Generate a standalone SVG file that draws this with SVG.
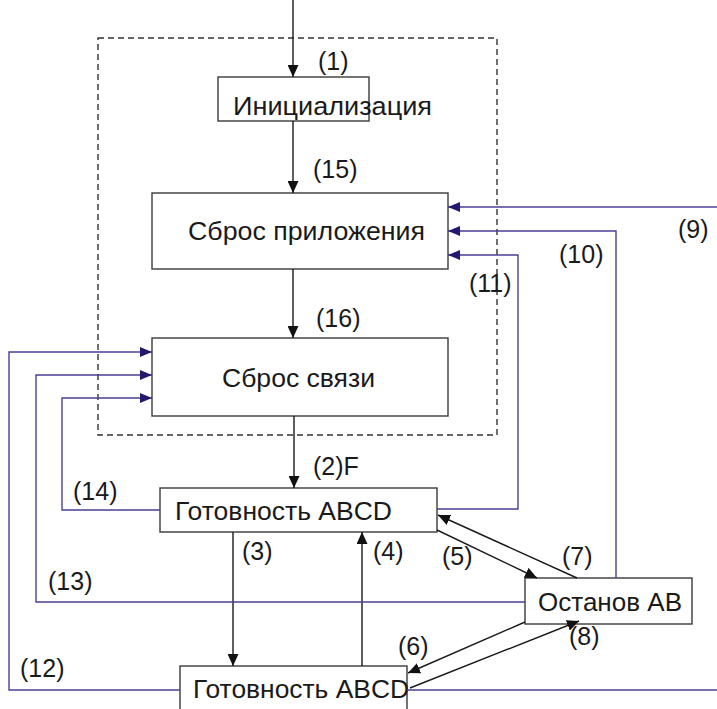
<svg xmlns="http://www.w3.org/2000/svg" width="717" height="709" viewBox="0 0 717 709">
<style>
  .box{fill:#fff;stroke:#3a3a3a;stroke-width:1.4}
  .txt{font-family:"Liberation Sans",Arial,sans-serif;font-size:26.5px;fill:#1a1a1a}
  .lbl{font-family:"Liberation Sans",Arial,sans-serif;font-size:25px;fill:#1a1a1a}
  .blk{fill:none;stroke:#1a1a1a;stroke-width:1.4}
  .pur{fill:none;stroke:#4a3f98;stroke-width:1.4}
  .dash{fill:none;stroke:#333;stroke-width:1.4;stroke-dasharray:6,4}
</style>
<defs>
  <marker id="ab" markerWidth="12" markerHeight="11" refX="12" refY="5.5" orient="auto" markerUnits="userSpaceOnUse">
    <path d="M0,0 L12,5.5 L0,11 Z" fill="#111"/>
  </marker>
  <marker id="ap" markerWidth="12" markerHeight="10" refX="12" refY="5" orient="auto" markerUnits="userSpaceOnUse">
    <path d="M0,0 L12,5 L0,10 Z" fill="#231a6e"/>
  </marker>
</defs>
<rect x="98" y="38" width="399" height="397" class="dash"/>
<g id="init"><rect x="218" y="77" width="151" height="44" class="box"/><text x="233" y="115" class="txt" textLength="199" lengthAdjust="spacingAndGlyphs">Инициализация</text></g>
<g id="appreset"><rect x="152" y="193" width="296" height="76" class="box"/><text x="188" y="240" class="txt" textLength="237" lengthAdjust="spacingAndGlyphs">Сброс приложения</text></g>
<g id="commreset"><rect x="152" y="338" width="296" height="78" class="box"/><text x="222" y="387" class="txt" textLength="153" lengthAdjust="spacingAndGlyphs">Сброс связи</text></g>
<g id="ready1"><rect x="160" y="488" width="277" height="44" class="box"/><text x="175" y="520" class="txt" textLength="217" lengthAdjust="spacingAndGlyphs">Готовность ABCD</text></g>
<g id="stop"><rect x="525" y="578" width="167" height="46" class="box"/><text x="538" y="611" class="txt" textLength="144" lengthAdjust="spacingAndGlyphs">Останов AB</text></g>
<g id="ready2"><rect x="180" y="666" width="227" height="60" class="box"/><text x="193" y="698" class="txt" textLength="216" lengthAdjust="spacingAndGlyphs">Готовность ABCD</text></g>
<g id="connectors">
  <line x1="293" y1="0" x2="293" y2="77" class="blk" marker-end="url(#ab)"/>
  <line x1="293" y1="121" x2="293" y2="193" class="blk" marker-end="url(#ab)"/>
  <line x1="293" y1="269" x2="293" y2="338" class="blk" marker-end="url(#ab)"/>
  <line x1="294" y1="416" x2="294" y2="488" class="blk" marker-end="url(#ab)"/>
  <line x1="233" y1="532" x2="233" y2="666" class="blk" marker-end="url(#ab)"/>
  <line x1="362" y1="666" x2="362" y2="532" class="blk" marker-end="url(#ab)"/>
  <line x1="437" y1="530" x2="537" y2="578" class="blk" marker-end="url(#ab)"/>
  <line x1="577" y1="578" x2="438" y2="515" class="blk" marker-end="url(#ab)"/>
  <line x1="525" y1="622" x2="408" y2="673" class="blk" marker-end="url(#ab)"/>
  <line x1="410" y1="688" x2="579" y2="621" class="blk" marker-end="url(#ab)"/>
  <polyline points="717,207 448,207" class="pur" marker-end="url(#ap)"/>
  <polyline points="616,578 616,231 448,231" class="pur" marker-end="url(#ap)"/>
  <polyline points="437,509 518,509 518,255 448,255" class="pur" marker-end="url(#ap)"/>
  <polyline points="180,690 9,690 9,352 152,352" class="pur" marker-end="url(#ap)"/>
  <line x1="407" y1="690" x2="717" y2="690" class="pur"/>
  <polyline points="525,602 36,602 36,375 152,375" class="pur" marker-end="url(#ap)"/>
  <polyline points="160,510 62,510 62,398 152,398" class="pur" marker-end="url(#ap)"/>
</g>
<g id="labels">
  <text x="318" y="70" class="lbl">(1)</text>
  <text x="313" y="178" class="lbl">(15)</text>
  <text x="316" y="327" class="lbl">(16)</text>
  <text x="678" y="238" class="lbl">(9)</text>
  <text x="559" y="263" class="lbl">(10)</text>
  <text x="469" y="292" class="lbl">(11)</text>
  <text x="313" y="475" class="lbl">(2)F</text>
  <text x="73" y="500" class="lbl">(14)</text>
  <text x="242" y="560" class="lbl">(3)</text>
  <text x="373" y="560" class="lbl">(4)</text>
  <text x="442" y="565" class="lbl">(5)</text>
  <text x="562" y="565" class="lbl">(7)</text>
  <text x="48" y="590" class="lbl">(13)</text>
  <text x="398" y="655" class="lbl">(6)</text>
  <text x="569" y="645" class="lbl">(8)</text>
  <text x="20" y="677" class="lbl">(12)</text>
</g>
</svg>
